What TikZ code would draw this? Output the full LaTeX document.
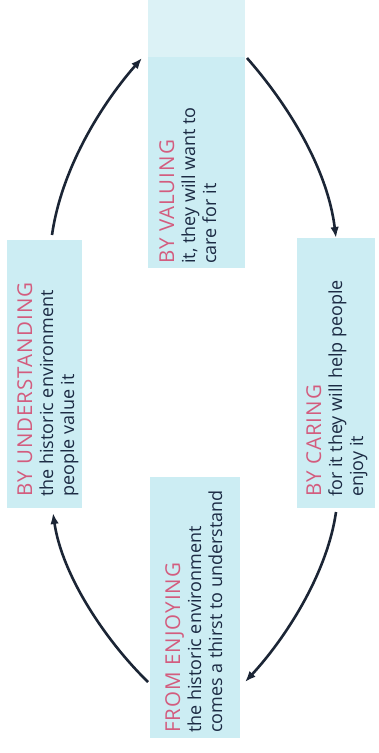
\documentclass[tikz,border=0pt]{standalone}
\usepackage{fontspec}
\setmainfont{Open Sans}
\newfontfamily\headfont[LetterSpace=5]{Open Sans}
\usetikzlibrary{arrows.meta,calc}
\definecolor{boxfill}{HTML}{CCEDF3}
\definecolor{boxpale}{HTML}{DCF2F6}
\definecolor{headpink}{HTML}{D35C7E}
\definecolor{bodyink}{HTML}{1C2B44}
\definecolor{arrowink}{HTML}{1B2535}
\begin{document}
\begin{tikzpicture}[x=1pt,y=-1pt,
  panel/.style={draw=none,fill=boxfill,inner sep=0pt,outer sep=0pt},
  label/.style={rotate=90,anchor=north west,inner sep=0pt,align=left,
    text=bodyink,font=\fontsize{18}{21}\selectfont},
  conn/.style={draw=arrowink,line width=2.6pt,-{Latex[length=11pt,width=8.5pt]}}]
\useasboundingbox[fill=white] (0,0) rectangle (379,753);
\node[panel,minimum width=97pt,minimum height=268pt] (val) at (196.5,134) {};
\node[panel,minimum width=75pt,minimum height=268pt] (und) at (44.5,374) {};
\node[panel,minimum width=78pt,minimum height=270pt] (car) at (336,373) {};
\node[panel,minimum width=90pt,minimum height=261pt] (enj) at (195,607.5) {};
\fill[boxpale] (val.north west) rectangle ($(val.north east)+(0,57)$);

\node[label] (tval) at ($(val.south west)+(11,-4)$)
  {{\headfont\fontsize{20.5}{21}\selectfont\color{headpink}BY VALUING}\\it, they will want to\\care for it};
\node[label] (tund) at ($(und.south west)+(10,-11)$)
  {{\headfont\fontsize{20.5}{21}\selectfont\color{headpink}BY UNDERSTANDING}\\the historic environment\\people value it};
\node[label] (tcar) at ($(car.south west)+(9,-11)$)
  {{\headfont\fontsize{20.5}{21}\selectfont\color{headpink}BY CARING}\\for it they will help people\\enjoy it};
\node[label] (tenj) at ($(enj.south west)+(15,-5)$)
  {{\headfont\fontsize{20.5}{21}\selectfont\color{headpink}FROM ENJOYING}\\the historic environment\\comes a thirst to understand};

\draw[conn] ($(und.north)+(7.5,-5)$) .. controls (62,165) and (105,100) .. ($(val.north west)+(-6,58)$);
\draw[conn] ($(val.north east)+(2,58)$) .. controls (284,100) and (327,165) .. (car.north);
\draw[conn] ($(car.south)+(0,4)$) .. controls (327,575) and (284,640) .. ($(enj.south east)+(5,-56)$);
\draw[conn] ($(enj.south west)+(-2,-56)$) .. controls (105,640) and (62,575) .. ($(und.south)+(8.5,5)$);
\end{tikzpicture}
\end{document}
